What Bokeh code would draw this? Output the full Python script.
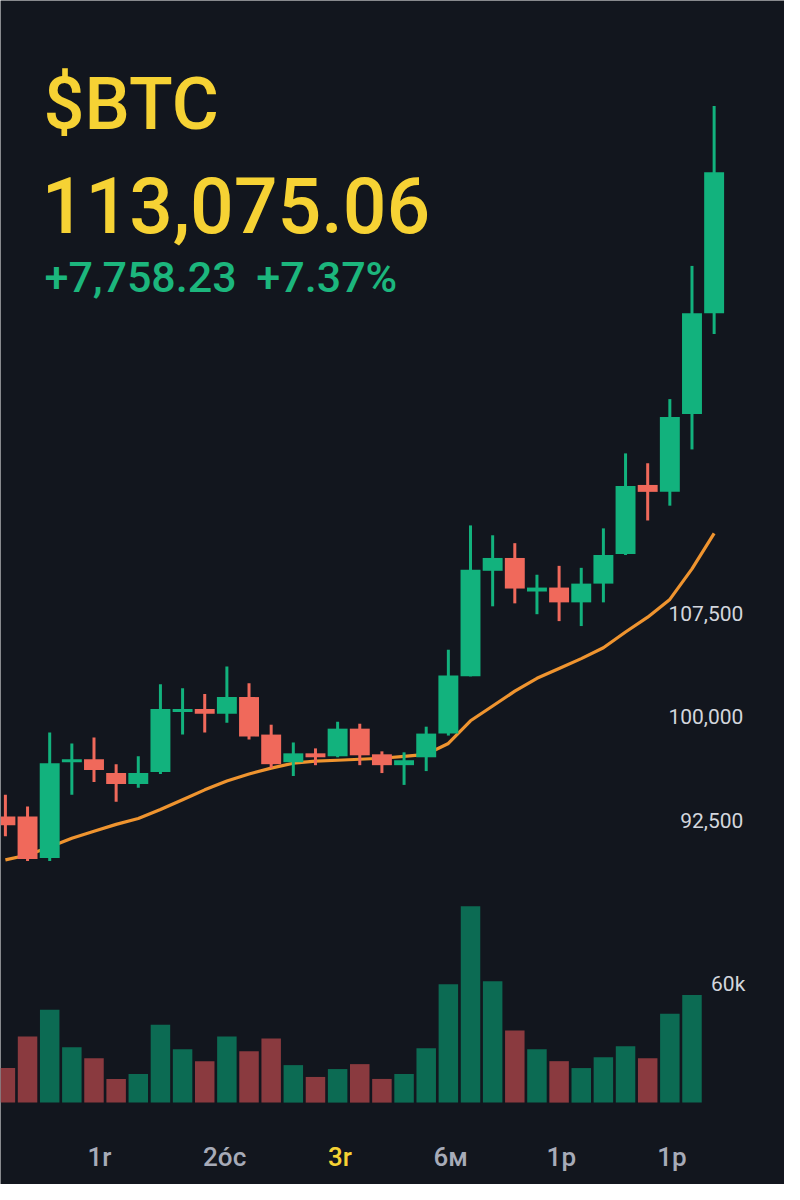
from bokeh.plotting import figure
from bokeh.models import ColumnDataSource, Range1d, Label
from bokeh.core.properties import value
from bokeh.embed import file_html
from bokeh.resources import INLINE

# ---------------- data ----------------
opens = [92786, 92786, 89786, 96714, 96929, 95929, 95143, 96000, 100357, 100571,
         100214, 101429, 98714, 96714, 97357, 97143, 99143, 97286, 96500, 97071,
         98786, 102929, 110571, 111500, 109071, 109357, 108286, 109643, 111786,
         116786, 116286, 121929, 129214]
closes = [92143, 89714, 96643, 96929, 96143, 95143, 95929, 100571, 100571, 100214,
          101429, 98571, 96571, 97357, 97071, 99143, 97214, 96500, 96857, 98786,
          103000, 110643, 111500, 109286, 109357, 108286, 109643, 111714, 116714,
          116286, 121714, 129214, 139429]
highs = [94357, 93500, 98857, 98071, 98500, 96571, 97143, 102357, 102071, 101643,
         103643, 102429, 99429, 98143, 97714, 99643, 99500, 97500, 97429, 99286,
         104857, 113857, 113143, 112571, 110286, 110929, 110786, 113643, 119071,
         118357, 123000, 132643, 144214]
lows = [91357, 89571, 89571, 94357, 95286, 93857, 94857, 95857, 98714, 98857,
        99571, 98357, 96286, 95714, 96500, 97071, 96500, 95929, 95071, 96071,
        98643, 102929, 108000, 108214, 107429, 106929, 106571, 108286, 111714,
        114214, 115286, 119357, 127714]
moving_avg = [89643, 90000, 90571, 91214, 91714, 92214, 92643, 93286, 94000, 94714,
              95357, 95857, 96286, 96643, 96786, 96857, 96929, 97000, 97143, 97286,
              98071, 99714, 100786, 101857, 102786, 103500, 104214, 105000, 106143,
              107214, 108500, 110714, 113286]
volumes = [17500, 33500, 47000, 28000, 22500, 12000, 14500, 39500, 27000, 21000,
           33500, 26000, 32500, 19000, 13000, 17000, 19500, 12000, 14500, 27500,
           60000, 99500, 61500, 36500, 27000, 21000, 17500, 23000, 28500, 22500,
           45000, 54500]

price_ticks = [92500, 100000, 107500]
price_tick_labels = ["92,500", "100,000", "107,500"]
volume_ticks = [60000]
volume_tick_labels = ["60k"]
time_ticks = [4.25, 9.9, 15.1, 20.1, 25.1, 30.1]
time_tick_labels = ["1r", "2óc", "3r", "6м", "1p", "1p"]
time_tick_active = [False, False, True, False, False, False]

symbol = "$BTC"
last_price = "113,075.06"
change_abs = "+7,758.23"
change_pct = "+7.37%"

# ---------------- style ----------------
BG = "#12161e"
UP = "#12b27d"
DOWN = "#f0695b"
VOL_UP = "#0c6b53"
VOL_DOWN = "#8a3a3f"
MA_COLOR = "#ef942f"
YELLOW = "#f6d234"
GREEN_TXT = "#1cb67d"
AXIS_TXT = "#d3d6dd"
TIME_TXT = "#a7abb8"
FONT = "Roboto"
HEAD_FONT = "'Roboto Medium', Roboto"

W, H = 784, 1184

# layout helpers: reference-page pixel -> data coords (annotation placement only)
STEP = 22.6
X0PX = 5.0
def px_x(rx):
    return (rx - X0PX) / STEP

def px_p(ry):
    return 100000 + (726 - ry) * 7500 / 105

def px_v(ry):
    return (1117 - ry) * 500

p = figure(width=W, height=H, output_backend="svg", toolbar_location=None,
           x_range=Range1d(px_x(0), px_x(800)),
           y_range=Range1d(px_p(1200), px_p(0)),
           min_border=0, min_border_left=0, min_border_right=0,
           min_border_top=0, min_border_bottom=0)
p.extra_y_ranges = {"vol": Range1d(px_v(1200), px_v(0))}
p.background_fill_color = BG
p.border_fill_color = BG
p.outline_line_color = None
p.xgrid.visible = False
p.ygrid.visible = False
p.xaxis.visible = False
p.yaxis.visible = False

n = len(opens)
idx = list(range(n))
up = [c >= o for o, c in zip(opens, closes)]
src = ColumnDataSource(dict(
    x=idx, o=opens, c=closes, h=highs, l=lows,
    top=[max(o, c) for o, c in zip(opens, closes)],
    bot=[min(o, c) for o, c in zip(opens, closes)],
    color=[UP if u else DOWN for u in up],
))

vsrc = ColumnDataSource(dict(
    x=idx[:len(volumes)], v=volumes,
    color=[VOL_UP if u else VOL_DOWN for u in up[:len(volumes)]],
))

# volume
p.vbar(x="x", top="v", bottom=0, width=0.88, fill_color="color", line_color=None,
       source=vsrc, y_range_name="vol")

# moving average
p.line(idx, moving_avg, line_color=MA_COLOR, line_width=3.2, line_join="round")

# candles
p.segment(x0="x", y0="l", x1="x", y1="h", line_color="color", line_width=3, source=src)
p.vbar(x="x", top="top", bottom="bot", width=0.9, fill_color="color",
       line_color=None, source=src)

# price labels
p.text(x=[px_x(758)] * len(price_ticks), y=price_ticks, text=price_tick_labels,
       text_font=value(FONT), text_font_size="21px", text_color=AXIS_TXT,
       text_align="right", text_baseline="middle")

# volume label
p.text(x=[px_x(760)] * len(volume_ticks), y=volume_ticks, text=volume_tick_labels,
       text_font=value(FONT), text_font_size="21px", text_color=AXIS_TXT,
       text_align="right", text_baseline="middle", y_range_name="vol")

# time labels
tsrc = ColumnDataSource(dict(
    x=time_ticks, y=[px_p(1172)] * len(time_ticks), t=time_tick_labels,
    color=[YELLOW if a else TIME_TXT for a in time_tick_active],
))
p.text(x="x", y="y", text="t", source=tsrc, text_font=value(HEAD_FONT),
       text_font_size="26px", text_color="color", text_align="center",
       text_baseline="alphabetic")

# header
p.add_layout(Label(x=px_x(44), y=px_p(105), text=symbol, text_font=HEAD_FONT,
                   text_font_size="72px", text_color=YELLOW,
                   text_baseline="alphabetic"))
p.add_layout(Label(x=px_x(42), y=px_p(207), text=last_price, text_font=HEAD_FONT,
                   text_font_size="77px", text_color=YELLOW,
                   text_baseline="alphabetic"))
p.add_layout(Label(x=px_x(45), y=px_p(280), text=change_abs, text_font=HEAD_FONT,
                   text_font_size="43px", text_color=GREEN_TXT,
                   text_baseline="alphabetic"))
p.add_layout(Label(x=px_x(261), y=px_p(280), text=change_pct, text_font=HEAD_FONT,
                   text_font_size="43px", text_color=GREEN_TXT,
                   text_baseline="alphabetic"))

open("out.html", "w").write(file_html(p, INLINE))
